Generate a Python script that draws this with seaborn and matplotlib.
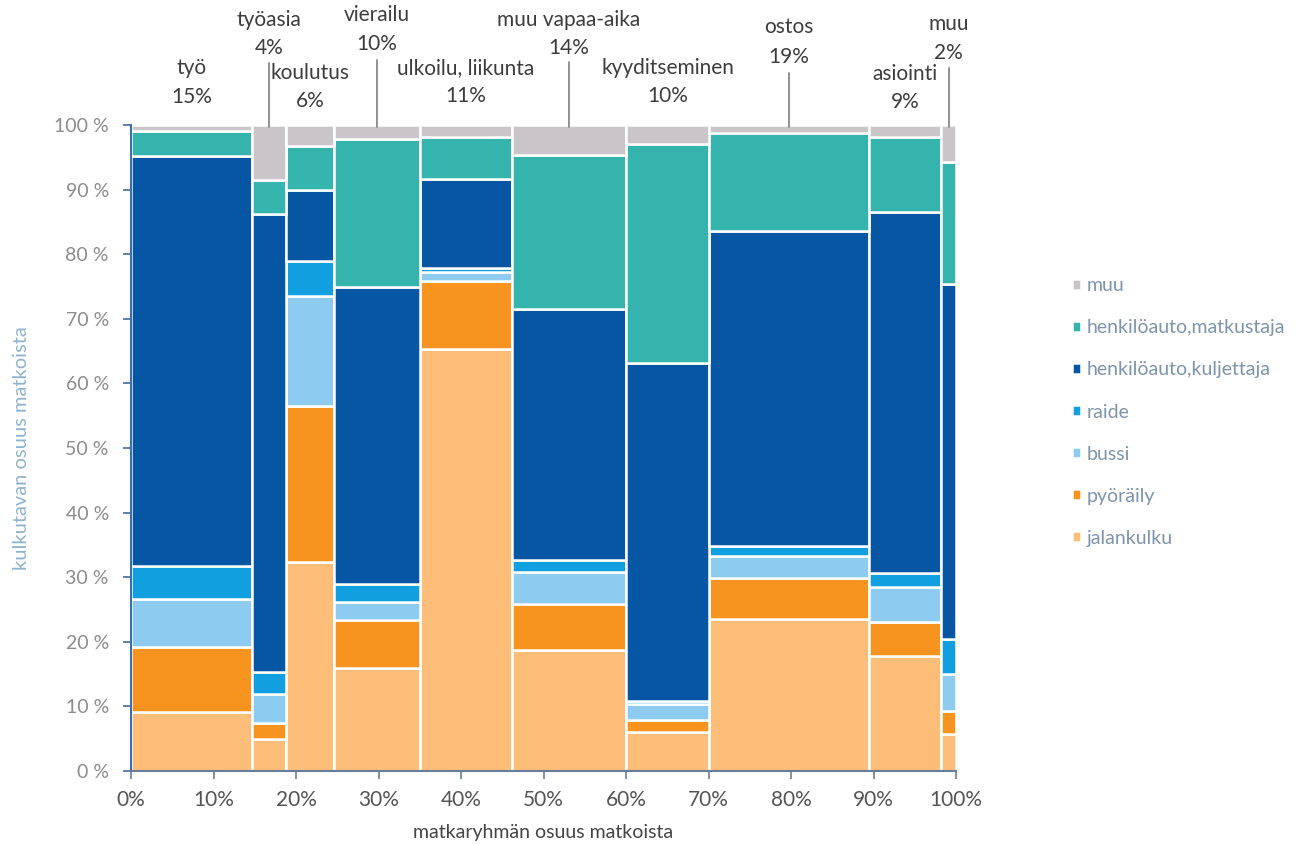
import numpy as np
import pandas as pd
import matplotlib
matplotlib.use("Agg")
import matplotlib.pyplot as plt
import matplotlib.transforms as mtransforms
import seaborn as sns

# ---------------- data ----------------
groups = ["työ", "työasia", "koulutus", "vierailu", "ulkoilu, liikunta",
          "muu vapaa-aika", "kyyditseminen", "ostos", "asiointi", "muu"]
group_pct_labels = ["15%", "4%", "6%", "10%", "11%", "14%", "10%", "19%", "9%", "2%"]
group_share = [14.7, 4.1, 5.8, 10.4, 11.2, 13.8, 10.1, 19.3, 8.8, 1.8]

modes = ["muu", "henkilöauto,matkustaja", "henkilöauto,kuljettaja",
         "raide", "bussi", "pyöräily", "jalankulku"]
muu_mode    = [1.0, 8.5, 3.3, 2.2, 1.8, 4.6, 2.9, 1.3, 1.8, 5.7]
matkustaja  = [3.8, 5.2, 6.8, 22.9, 6.6, 23.9, 34.0, 15.1, 11.6, 18.9]
kuljettaja  = [63.5, 71.0, 11.0, 46.0, 13.8, 38.8, 52.2, 48.7, 55.9, 54.9]
raide       = [5.1, 3.4, 5.3, 2.7, 0.5, 1.9, 0.5, 1.6, 2.2, 5.5]
bussi       = [7.4, 4.4, 17.1, 2.8, 1.4, 4.9, 2.5, 3.4, 5.4, 5.7]
pyoraily    = [10.0, 2.6, 24.2, 7.4, 10.5, 7.2, 1.9, 6.4, 5.3, 3.6]
jalankulku  = [9.2, 4.9, 32.3, 16.0, 65.4, 18.7, 6.0, 23.5, 17.8, 5.7]

x_ticks = [0, 10, 20, 30, 40, 50, 60, 70, 80, 90, 100]
x_ticklabels = ["0%", "10%", "20%", "30%", "40%", "50%", "60%", "70%", "80%", "90%", "100%"]
y_ticks = [0, 10, 20, 30, 40, 50, 60, 70, 80, 90, 100]
y_ticklabels = ["0 %", "10 %", "20 %", "30 %", "40 %", "50 %", "60 %", "70 %", "80 %", "90 %", "100 %"]

# ---------------- build table ----------------
series = [muu_mode, matkustaja, kuljettaja, raide, bussi, pyoraily, jalankulku]
edges = [0.0] + [float(v) for v in np.cumsum(group_share)]
edges[-1] = 100.0
centers = [(a + b) / 2 for a, b in zip(edges[:-1], edges[1:])]

rows = []
for mode, vals in zip(modes, series):
    for g, c, v in zip(groups, centers, vals):
        rows.append({"ryhma": g, "x": c, "kulkutapa": mode, "osuus": v})
df = pd.DataFrame(rows)

colors = {
    "muu": "#c9c5c8",
    "henkilöauto,matkustaja": "#35b3ad",
    "henkilöauto,kuljettaja": "#0656a3",
    "raide": "#129fe0",
    "bussi": "#8dcbf0",
    "pyöräily": "#f7931f",
    "jalankulku": "#fbbd78",
}

# ---------------- plot ----------------
sns.set_theme(style="white")
plt.rcParams["font.family"] = ["Lato", "DejaVu Sans"]

fig = plt.figure(figsize=(13.07, 8.44), dpi=100)
ax = fig.add_axes([131 / 1307, 1 - 771 / 844, 825 / 1307, 646 / 844])

sns.histplot(data=df, x="x", weights="osuus", hue="kulkutapa", hue_order=modes,
             bins=edges, multiple="stack", palette=colors, alpha=1,
             edgecolor="white", linewidth=1.8, ax=ax, legend=True)

ax.set_xlim(0, 100)
ax.set_ylim(0, 100)
ax.set_xticks(x_ticks)
ax.set_xticklabels(x_ticklabels, fontsize=15, color="#555555")
ax.set_yticks(y_ticks)
ax.set_yticklabels(y_ticklabels, fontsize=14, color="#8c8c8c")
ax.tick_params(axis="x", length=6, width=1.2, color="#6b7c99", pad=8, bottom=True)
ax.tick_params(axis="y", length=6, width=1.2, color="#4a6a9a", pad=10, left=True)
for s in ["top", "right"]:
    ax.spines[s].set_visible(False)
ax.spines["left"].set_color("#3a6fb3")
ax.spines["left"].set_linewidth(1.5)
ax.spines["bottom"].set_color("#6b7c99")
ax.spines["bottom"].set_linewidth(1.5)

ax.set_xlabel("matkaryhmän osuus matkoista", fontsize=14, color="#444444", labelpad=10)
ax.set_ylabel("kulkutavan osuus matkoista", fontsize=14.5, color="#8fb3cf")
ax.yaxis.set_label_coords(-0.122, 0.5)

# legend
sns.move_legend(ax, "center left", bbox_to_anchor=(1054 / 1307, 1 - 412 / 844),
                bbox_transform=fig.transFigure, frameon=False, title=None,
                fontsize=14, handlelength=0.5, handleheight=0.5,
                handletextpad=0.3, labelspacing=1.29)
leg = ax.get_legend()
for t in leg.get_texts():
    t.set_color("#7d94ac")

# group labels above the columns
trans = mtransforms.blended_transform_factory(ax.transData, fig.transFigure)
name_y = [68, 20, 73, 15, 68, 20, 68, 27, 74, 24]
pct_y = [97, 48, 101, 44, 96, 48, 96, 57, 102, 53]
line_top = [None, 63, None, 60, None, 62, None, 73, None, 68]
for c, g, p, ny, py, lt in zip(centers, groups, group_pct_labels, name_y, pct_y, line_top):
    ax.text(c, 1 - ny / 844, g, transform=trans, ha="center", va="center",
            fontsize=15, color="#3d3d3d")
    ax.text(c, 1 - py / 844, p, transform=trans, ha="center", va="center",
            fontsize=15, color="#3d3d3d")
    if lt is not None:
        ax.plot([c, c], [1 - lt / 844, 1 - 127 / 844], transform=trans,
                color="#888888", linewidth=1.3, clip_on=False)

fig.savefig("out.png", dpi=100)
